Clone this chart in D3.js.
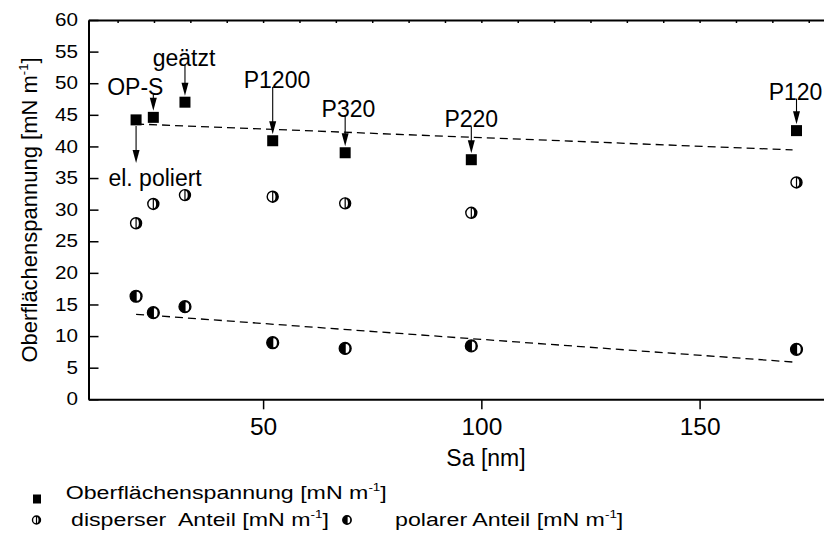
<!DOCTYPE html>
<html>
<head>
<meta charset="utf-8">
<script src="https://cdn.jsdelivr.net/npm/d3@7"></script>
<style>
  body { margin: 0; background: #fff; }
  svg { display: block; font-family: "Liberation Sans", Arial, sans-serif; }
</style>
</head>
<body>
<div id="chart"></div>
<script>
// Messwerte (Sa in nm, Werte in mN/m)
var sa = [20.9, 24.85, 32.1, 52.2, 68.8, 97.7, 172.2];
var gesamt = [44.2, 44.6, 47.0, 40.9, 39.0, 37.9, 42.5];
var dispers = [27.85, 30.9, 32.3, 32.05, 31.0, 29.5, 34.3];
var polar = [16.3, 13.7, 14.65, 8.95, 8.05, 8.45, 7.9];
var proben = ['el. poliert', 'OP-S', 'geätzt', 'P1200', 'P320', 'P220', 'P120'];

var trendX = [20.9, 171.3];
var trendGesamt = [43.55, 39.45];
var trendPolar = [13.45, 5.9];

var yMajor = [0, 5, 10, 15, 20, 25, 30, 35, 40, 45, 50, 55, 60];
var xMajor = [50, 100, 150];

// Beschriftungs-Lage: [dx Text, dy Grundlinie] relativ zum Punkt
var annLayout = [[19, 65.7], [-18, -22.3], [-1, -36.6], [4.3, -52.7], [3.3, -35.4], [0, -32.3], [-1, -31]];

var width = 824, height = 542;
var svg = d3.select('#chart').append('svg')
  .attr('width', width)
  .attr('height', height);

var x = d3.scaleLinear().domain([10, 180]).range([88.5, 88.5 + 170 * 4.365]);
var y = d3.scaleLinear().domain([0, 60]).range([399.3, 20]);

var xMinor = d3.range(0, 20).map(function(i) { return 50 / 3 + i * 50 / 6; })
  .filter(function(v) { return v < 180 && xMajor.indexOf(Math.round(v)) < 0; });
var yMinor = d3.range(0, 12).map(function(i) { return 2.5 + i * 5; });

// Achsen
var gx = svg.append('g').attr('transform', 'translate(0,' + y(0) + ')');
gx.call(d3.axisBottom(x).tickValues(xMinor).tickFormat('').tickSizeInner(6).tickSizeOuter(0));
gx.call(d3.axisBottom(x).tickValues(xMajor).tickSizeInner(10).tickSizeOuter(0).tickPadding(8));
gx.selectAll('text').style('font-size', '24.5px').attr('fill', '#000');

var gt = svg.append('g').attr('transform', 'translate(0,' + y(60) + ')');
gt.call(d3.axisTop(x).tickValues(xMinor.concat(xMajor)).tickFormat('').tickSizeInner(-3).tickSizeOuter(0));

var gy = svg.append('g').attr('transform', 'translate(' + x(10) + ',0)');
gy.call(d3.axisLeft(y).tickValues(yMinor).tickFormat('').tickSizeInner(-5).tickSizeOuter(0));
gy.call(d3.axisLeft(y).tickValues(yMajor).tickSizeInner(-10).tickSizeOuter(0));
gy.selectAll('text')
  .style('font-size', '17.5px')
  .attr('fill', '#000')
  .attr('x', -10.5 / 1.18)
  .attr('transform', 'scale(1.18,1)');

svg.selectAll('.domain').attr('stroke', '#000').attr('stroke-width', 2);
svg.selectAll('.tick line').attr('stroke', '#000').attr('stroke-width', 1.5);

// Achsentitel
svg.append('text')
  .attr('x', 486).attr('y', 466)
  .attr('text-anchor', 'middle')
  .style('font-size', '23px')
  .text('Sa [nm]');

var yt = svg.append('text')
  .attr('transform', 'translate(37,210) rotate(-90)')
  .attr('text-anchor', 'middle')
  .style('font-size', '22px');
yt.append('tspan').text('Oberflächenspannung [mN m');
yt.append('tspan').attr('dy', -9).style('font-size', '13px').text('-1');
yt.append('tspan').attr('dy', 9).text(']');

// Trendlinien
var line = d3.line().x(function(d) { return x(d[0]); }).y(function(d) { return y(d[1]); });
[trendGesamt, trendPolar].forEach(function(t) {
  svg.append('path')
    .attr('d', line(trendX.map(function(v, i) { return [v, t[i]]; })))
    .attr('fill', 'none')
    .attr('stroke', '#000')
    .attr('stroke-width', 1.3)
    .attr('stroke-dasharray', '8,5');
});

// Symbole
function dispersSymbol(g, r) {
  g.append('circle').attr('r', r).attr('fill', '#fff').attr('stroke', '#000').attr('stroke-width', 1.4);
  g.append('path').attr('d', 'M0,' + (-r) + 'A' + r + ',' + r + ' 0 0 1 0,' + r + 'Z').attr('fill', '#000');
  g.append('path').attr('d', 'M0,' + (-r * 0.78) + 'A' + (r * 0.5) + ',' + (r * 0.78) + ' 0 0 1 0,' + (r * 0.78) + 'Z').attr('fill', '#fff');
  g.append('line').attr('y1', -r).attr('y2', r).attr('stroke', '#000').attr('stroke-width', 1.2);
}
function polarSymbol(g, r) {
  g.append('circle').attr('r', r).attr('fill', '#000').attr('stroke', '#000').attr('stroke-width', 1.2);
  g.append('path').attr('d', 'M0.6,' + (-r * 0.75) + 'A' + (r * 0.6) + ',' + (r * 0.75) + ' 0 0 1 0.6,' + (r * 0.75) + 'Z').attr('fill', '#fff');
}

svg.selectAll('.disp').data(sa).enter().append('g')
  .attr('class', 'disp')
  .attr('transform', function(d, i) { return 'translate(' + x(d) + ',' + y(dispers[i]) + ')'; })
  .each(function() { dispersSymbol(d3.select(this), 5.5); });

svg.selectAll('.pol').data(sa).enter().append('g')
  .attr('class', 'pol')
  .attr('transform', function(d, i) { return 'translate(' + x(d) + ',' + y(polar[i]) + ')'; })
  .each(function() { polarSymbol(d3.select(this), 6); });

svg.selectAll('.ges').data(sa).enter().append('rect')
  .attr('class', 'ges')
  .attr('x', function(d) { return x(d) - 5.5; })
  .attr('y', function(d, i) { return y(gesamt[i]) - 5.5; })
  .attr('width', 11).attr('height', 11)
  .attr('fill', '#000');

// Pfeile mit Beschriftung
function arrow(x0, y0, y1) {
  var dir = y1 > y0 ? 1 : -1;
  svg.append('line')
    .attr('x1', x0).attr('x2', x0)
    .attr('y1', y0).attr('y2', y1 - dir * 11)
    .attr('stroke', '#000').attr('stroke-width', 1.1);
  svg.append('path')
    .attr('d', 'M' + x0 + ',' + y1 + 'L' + (x0 - 3.5) + ',' + (y1 - dir * 13) + 'L' + (x0 + 3.5) + ',' + (y1 - dir * 13) + 'Z')
    .attr('fill', '#000');
}

proben.forEach(function(name, i) {
  var px = x(sa[i]), py = y(gesamt[i]);
  var lay = annLayout[i];
  var base = py + lay[1];
  svg.append('text')
    .attr('x', px + lay[0]).attr('y', base)
    .attr('text-anchor', 'middle')
    .style('font-size', '23px')
    .text(name);
  if (lay[1] > 0) {
    arrow(px, py + 6, base - 22.5);
  } else {
    arrow(px, base - 1, py - 6.5);
  }
});

// Legende
function legendText(tx, ty, label) {
  var t = svg.append('text')
    .attr('transform', 'translate(' + tx + ',' + ty + ') scale(1.22,1)')
    .style('font-size', '19px');
  t.append('tspan').attr('xml:space', 'preserve').text(label + ' [mN m');
  t.append('tspan').attr('dy', -8).style('font-size', '11px').text('-1');
  t.append('tspan').attr('dy', 8).text(']');
}

svg.append('rect').attr('x', 33).attr('y', 494.5).attr('width', 8).attr('height', 9).attr('fill', '#000');
legendText(65.7, 499.3, 'Oberflächenspannung');

dispersSymbol(svg.append('g').attr('transform', 'translate(36.5,520)'), 4);
legendText(71, 526, 'disperser\u00a0 Anteil');

polarSymbol(svg.append('g').attr('transform', 'translate(347,520)'), 4.3);
legendText(395, 526, 'polarer Anteil');
</script>
</body>
</html>
